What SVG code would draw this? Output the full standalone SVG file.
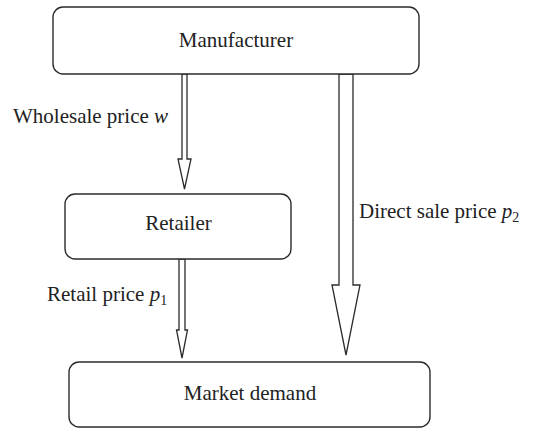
<svg xmlns="http://www.w3.org/2000/svg" width="534" height="428" viewBox="0 0 534 428">
<style>
.box{fill:#fff;stroke:#2b2b2b;stroke-width:1.4}
.arr{fill:#fff;stroke:#2b2b2b;stroke-width:1.3;stroke-linejoin:miter}
text{font-family:"Liberation Serif","Times New Roman",serif;font-size:21px;fill:#222}
.c{text-anchor:middle}
.m{font-style:italic}
.s{font-size:14px}
</style>
<rect width="534" height="428" fill="#fff"/>
<g id="connectors">
<polygon class="arr" points="182,74 182,159 178,159 184.5,189 191,159 187,159 187,74"/>
<polygon class="arr" points="179,259 179,330 176.5,330 182,358 187.5,330 185,330 185,259"/>
<polygon class="arr" points="339,74 339,285 332,285 346,355 360,285 353,285 353,74"/>
<text x="13" y="123">Wholesale price <tspan class="m">w</tspan></text>
<text x="47" y="301">Retail price <tspan class="m">p</tspan><tspan class="s" dy="4">1</tspan></text>
<text x="359" y="218">Direct sale price <tspan class="m">p</tspan><tspan class="s" dy="4">2</tspan></text>
</g>
<g id="manufacturer">
<rect class="box" x="53" y="7" width="366" height="67" rx="10"/>
<text class="c" x="236" y="47">Manufacturer</text>
</g>
<g id="retailer">
<rect class="box" x="65" y="194" width="226" height="65" rx="10"/>
<text class="c" x="178.5" y="230">Retailer</text>
</g>
<g id="market">
<rect class="box" x="69" y="362" width="361" height="65" rx="10"/>
<text class="c" x="250" y="400">Market demand</text>
</g>
</svg>
